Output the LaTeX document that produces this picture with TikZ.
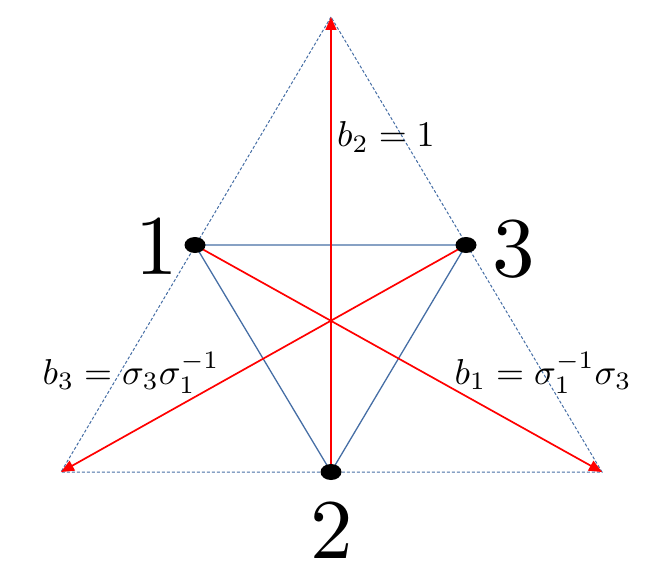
\documentclass[tikz,border=0pt]{standalone}
\usetikzlibrary{arrows.meta,shapes.geometric}
\definecolor{edgeblue}{RGB}{70,110,165}
\tikzset{
  outer/.style={draw=edgeblue, line width=1pt, dash pattern=on 3pt off 2pt},
  inner/.style={draw=edgeblue, line width=1.3pt},
  median/.style={draw=red, line width=1.7pt, -{Triangle[length=13pt,width=11pt]}},
  dot/.style={ellipse, fill=black, minimum width=21pt, minimum height=16pt, inner sep=0pt},
  bignum/.style={inner sep=0pt, scale=8.5},
  lbl/.style={inner sep=0pt, scale=3.6},
}
\begin{document}
\begin{tikzpicture}[x=1pt,y=-1pt]
\useasboundingbox (0,0) rectangle (664,578);
\coordinate (T) at (331,17);
\coordinate (L) at (61,472);
\coordinate (R) at (602,472);
\coordinate (P1) at (195,245);
\coordinate (P3) at (466,245);
\coordinate (P2) at (331,472);
\draw[outer] (T) -- (L) -- (R) -- cycle;
\draw[inner] (P1) -- (P3) -- (P2) -- cycle;
\draw[median] (P2) -- (T);
\draw[median] (P3) -- (L);
\draw[median] (P1) -- (R);
\node[dot] (d1) at (P1) {};
\node[dot] (d3) at (P3) {};
\node[dot] (d2) at (P2) {};
\node[bignum] (n1) at (157,246) {1};
\node[bignum] (n3) at (514,249) {3};
\node[bignum] (n2) at (332,530) {2};
\node[lbl] (l2) at (386,137) {$b_2=1$};
\node[lbl] (l3) at (131,373) {$b_3=\sigma_3\sigma_1^{-1}$};
\node[lbl] (l1) at (543,373) {$b_1=\sigma_1^{-1}\sigma_3$};
\end{tikzpicture}
\end{document}
